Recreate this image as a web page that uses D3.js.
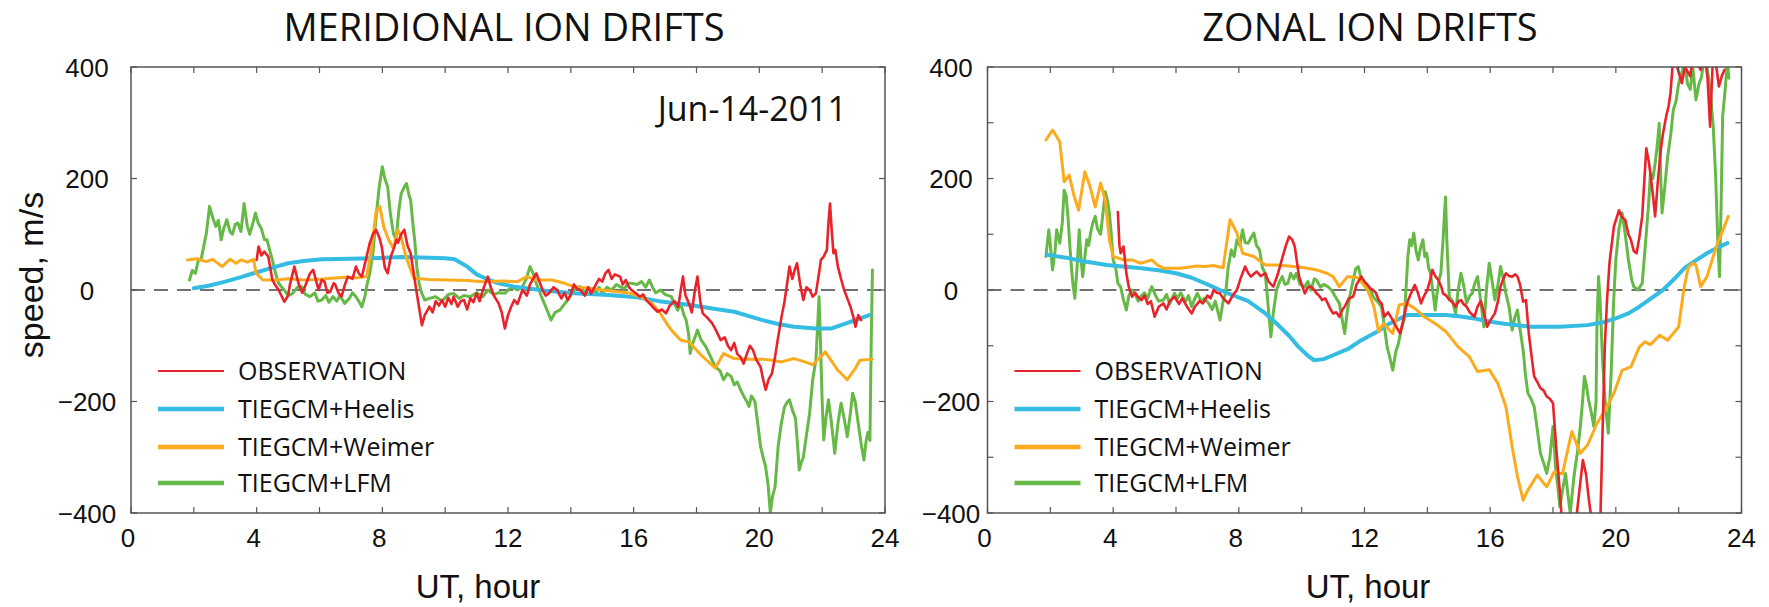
<!DOCTYPE html>
<html>
<head>
<meta charset="utf-8">
<script src="https://cdn.jsdelivr.net/npm/d3@7"></script>
<style>
  html, body { margin: 0; padding: 0; background: #fff; }
  svg { display: block; }
</style>
</head>
<body>
<svg id="chart" width="1769" height="607"></svg>
<script>
// ---- data: [UT hour, speed m/s] ----
const panelTitles = ["MERIDIONAL ION DRIFTS", "ZONAL ION DRIFTS"];
const seriesNames = ["OBSERVATION", "TIEGCM+Heelis", "TIEGCM+Weimer", "TIEGCM+LFM"];
const xTickLabels = [0, 4, 8, 12, 16, 20, 24];
const yTickLabels = [400, 200, 0, -200, -400];
const dateLabel = "Jun-14-2011";

const merHeelis = [[2.0,3],[2.5,8],[3.0,15],[3.5,23],[3.9,30],[4.5,40],[5.0,48],[5.5,52],[6.1,55],[7.0,56],[7.7,57],[8.6,59],[9.5,58],[10.0,57],[10.3,55],[10.7,42],[11.0,28],[11.4,18],[11.7,12],[12.2,6],[12.6,3],[13.3,-2],[14.1,-6],[15.2,-9],[16.1,-13],[16.8,-20],[17.8,-27],[18.5,-33],[19.2,-39],[20.1,-54],[20.6,-61],[21.1,-66],[21.8,-69],[22.3,-69],[22.9,-57],[23.5,-45]];

const merWeimer = [[1.8,54],[2.1,56],[2.4,51],[2.6,55],[2.9,42],[3.15,55],[3.35,48],[3.5,54],[3.7,50],[3.9,55],[3.98,30],[4.2,18],[4.6,18],[5.0,20],[5.5,18],[5.9,19],[6.4,21],[6.8,23],[7.2,22],[7.5,24],[7.65,70],[7.8,140],[7.92,150],[8.05,112],[8.2,90],[8.35,75],[8.5,108],[8.6,95],[8.75,60],[9.0,21],[9.5,19],[10.1,18],[10.7,17],[11.2,15],[11.8,16],[12.3,15],[12.6,24],[12.9,18],[13.4,18],[13.8,12],[14.1,6],[14.6,3],[15.0,0],[15.5,-3],[15.9,-6],[16.3,-14],[16.6,-25],[16.85,-42],[17.05,-60],[17.2,-72],[17.5,-90],[17.76,-93],[18.1,-114],[18.4,-130],[18.6,-140],[18.86,-114],[19.2,-123],[19.6,-124],[20.1,-124],[20.4,-126],[20.7,-129],[21.1,-123],[21.4,-128],[21.7,-134],[22.1,-111],[22.5,-144],[22.8,-161],[23.06,-140],[23.2,-126],[23.6,-124]];

const merObservation = [[4.0,54],[4.06,78],[4.15,62],[4.24,69],[4.37,60],[4.5,18],[4.6,8],[4.7,0],[4.88,-21],[5.0,-10],[5.06,10],[5.2,42],[5.33,12],[5.45,-5],[5.55,8],[5.7,30],[5.8,36],[5.97,0],[6.07,18],[6.16,15],[6.25,-5],[6.34,-3],[6.45,12],[6.5,10],[6.6,-5],[6.7,-12],[6.8,8],[6.9,24],[7.05,20],[7.16,42],[7.25,30],[7.35,24],[7.5,60],[7.6,84],[7.7,100],[7.8,108],[7.9,95],[7.98,78],[8.08,40],[8.17,30],[8.27,60],[8.35,72],[8.45,90],[8.5,85],[8.6,100],[8.7,108],[8.8,80],[8.9,66],[9.0,30],[9.08,0],[9.18,-35],[9.26,-63],[9.35,-45],[9.5,-30],[9.6,-40],[9.7,-20],[9.8,-28],[9.9,-18],[10.0,-30],[10.1,-14],[10.2,-25],[10.27,-12],[10.4,-30],[10.5,-20],[10.6,-18],[10.7,-35],[10.8,-15],[10.9,-22],[11.0,-6],[11.1,-20],[11.2,0],[11.36,24],[11.45,5],[11.55,-10],[11.7,-24],[11.8,-40],[11.9,-69],[12.0,-45],[12.1,-30],[12.2,-18],[12.3,-25],[12.46,0],[12.6,-10],[12.7,10],[12.8,20],[12.9,30],[13.0,15],[13.1,0],[13.2,-10],[13.3,-6],[13.45,5],[13.56,0],[13.7,-15],[13.8,-5],[13.9,-18],[14.0,-8],[14.1,10],[14.2,2],[14.3,0],[14.45,-10],[14.55,5],[14.65,-6],[14.8,10],[14.9,20],[15.0,15],[15.1,30],[15.2,36],[15.3,20],[15.4,28],[15.57,24],[15.65,10],[15.75,18],[15.85,5],[15.93,0],[16.05,-5],[16.2,-12],[16.3,-8],[16.4,-18],[16.5,-24],[16.6,-30],[16.76,-39],[16.9,-35],[17.03,-42],[17.15,-28],[17.3,-20],[17.42,-30],[17.5,0],[17.57,24],[17.65,-10],[17.76,-24],[17.85,-40],[17.95,0],[18.03,24],[18.12,-20],[18.2,-42],[18.35,-50],[18.5,-60],[18.6,-70],[18.77,-90],[18.9,-85],[19.0,-100],[19.1,-108],[19.2,-95],[19.3,-115],[19.4,-120],[19.5,-132],[19.6,-115],[19.7,-100],[19.8,-108],[19.9,-125],[20.04,-138],[20.12,-160],[20.2,-179],[20.3,-160],[20.4,-150],[20.5,-120],[20.6,-84],[20.7,-50],[20.8,-21],[20.88,10],[20.96,42],[21.05,20],[21.12,35],[21.2,48],[21.3,10],[21.4,-18],[21.5,5],[21.6,0],[21.7,-12],[21.8,-6],[21.9,30],[21.96,54],[22.05,60],[22.15,72],[22.2,120],[22.25,155],[22.3,110],[22.36,66],[22.42,72],[22.5,42],[22.6,20],[22.7,0],[22.8,-15],[22.9,-30],[23.0,-50],[23.06,-66],[23.15,-45],[23.24,-54]];

const merLFM = [[1.86,18],[1.95,35],[2.05,30],[2.15,55],[2.23,54],[2.32,80],[2.4,102],[2.5,150],[2.6,130],[2.7,114],[2.78,125],[2.87,90],[2.95,110],[3.05,126],[3.15,105],[3.23,100],[3.32,118],[3.4,120],[3.5,105],[3.6,155],[3.7,115],[3.78,100],[3.88,120],[3.96,138],[4.05,120],[4.15,110],[4.25,90],[4.33,90],[4.42,70],[4.5,54],[4.6,30],[4.7,12],[4.8,5],[4.88,0],[5.0,-10],[5.15,-6],[5.3,5],[5.43,6],[5.55,-8],[5.7,-12],[5.85,-5],[5.95,-20],[6.07,-18],[6.2,-10],[6.3,-22],[6.43,-12],[6.55,-20],[6.65,-10],[6.8,-24],[6.95,-15],[7.05,-5],[7.16,-12],[7.25,-20],[7.35,-30],[7.45,-10],[7.5,6],[7.6,30],[7.7,66],[7.8,130],[7.9,185],[8.0,221],[8.08,200],[8.17,185],[8.25,140],[8.35,102],[8.44,90],[8.52,140],[8.6,173],[8.7,185],[8.77,191],[8.85,170],[8.9,162],[8.97,120],[9.03,90],[9.1,40],[9.17,12],[9.25,-5],[9.35,-18],[9.5,-15],[9.7,-12],[9.9,-20],[10.1,-8],[10.27,-6],[10.45,-15],[10.6,-10],[10.8,-12],[11.0,-5],[11.2,-12],[11.36,0],[11.55,-8],[11.7,-5],[11.9,-6],[12.1,5],[12.3,0],[12.46,6],[12.58,20],[12.7,42],[12.8,30],[12.9,12],[13.05,-10],[13.2,-30],[13.37,-54],[13.5,-40],[13.65,-36],[13.8,-25],[13.9,-18],[14.05,-5],[14.2,5],[14.3,6],[14.45,-5],[14.55,3],[14.65,0],[14.8,-6],[14.9,5],[15.0,-6],[15.15,5],[15.3,0],[15.45,10],[15.57,6],[15.7,2],[15.82,12],[15.93,12],[16.1,10],[16.25,15],[16.38,5],[16.5,18],[16.6,5],[16.7,-5],[16.85,0],[17.0,-8],[17.2,-12],[17.3,-25],[17.4,-36],[17.5,-25],[17.6,-45],[17.67,-54],[17.75,-80],[17.8,-114],[17.85,-100],[17.95,-85],[18.03,-72],[18.15,-90],[18.3,-102],[18.45,-120],[18.6,-138],[18.75,-145],[18.86,-161],[18.98,-150],[19.1,-155],[19.2,-170],[19.3,-165],[19.4,-179],[19.5,-190],[19.6,-200],[19.67,-209],[19.75,-190],[19.86,-200],[19.95,-240],[20.04,-281],[20.12,-300],[20.2,-317],[20.28,-350],[20.35,-400],[20.42,-370],[20.5,-353],[20.6,-280],[20.7,-239],[20.8,-210],[20.9,-200],[20.96,-197],[21.05,-215],[21.15,-230],[21.22,-280],[21.27,-323],[21.33,-310],[21.4,-300],[21.5,-260],[21.6,-221],[21.7,-160],[21.8,-126],[21.86,-60],[21.9,-12],[21.95,-100],[22.0,-200],[22.05,-269],[22.12,-230],[22.2,-197],[22.3,-240],[22.4,-293],[22.5,-240],[22.6,-203],[22.7,-230],[22.8,-263],[22.9,-220],[22.97,-185],[23.05,-200],[23.15,-240],[23.25,-280],[23.33,-305],[23.4,-270],[23.46,-255],[23.52,-270],[23.56,-100],[23.6,36]];

const zonHeelis = [[1.9,63],[2.5,58],[3.0,52],[3.8,45],[4.9,39],[5.5,35],[6.0,30],[6.5,22],[7.0,10],[7.4,0],[7.8,-9],[8.3,-20],[8.8,-40],[9.2,-60],[9.6,-82],[9.9,-102],[10.2,-118],[10.4,-126],[10.7,-124],[11.0,-117],[11.5,-105],[11.9,-90],[12.4,-75],[12.8,-60],[13.35,-45],[14.0,-45],[14.6,-45],[15.0,-47],[15.5,-51],[16.0,-57],[16.4,-60],[17.3,-66],[18.2,-66],[19.1,-63],[19.6,-58],[20.0,-51],[20.4,-42],[20.75,-30],[21.1,-16],[21.5,0],[21.9,22],[22.2,40],[22.6,55],[22.9,66],[23.2,75],[23.55,84]];

const zonWeimer = [[1.86,269],[2.07,287],[2.3,266],[2.44,194],[2.6,206],[2.75,170],[2.9,143],[3.1,212],[3.25,188],[3.43,149],[3.6,192],[3.75,161],[3.88,90],[4.0,60],[4.33,54],[4.6,54],[4.87,48],[5.0,50],[5.23,54],[5.4,45],[5.6,39],[6.13,39],[6.68,43],[6.9,42],[7.2,44],[7.5,40],[7.72,126],[7.94,102],[8.12,66],[8.48,60],[8.84,45],[9.2,45],[9.74,42],[10.1,40],[10.47,36],[10.8,30],[11.0,24],[11.2,6],[11.46,24],[11.8,22],[12.1,0],[12.3,-30],[12.45,-75],[12.6,-60],[12.9,-78],[13.1,-27],[13.35,-24],[13.6,-33],[13.9,-48],[14.25,-60],[14.6,-75],[14.98,-102],[15.34,-120],[15.6,-146],[15.97,-143],[16.24,-167],[16.5,-209],[16.7,-281],[16.87,-335],[17.05,-377],[17.2,-359],[17.5,-332],[17.8,-353],[18.04,-326],[18.3,-330],[18.6,-254],[18.87,-293],[19.1,-278],[19.4,-239],[19.67,-215],[19.94,-185],[20.2,-144],[20.48,-138],[20.75,-102],[20.93,-93],[21.1,-98],[21.4,-81],[21.65,-90],[22.0,-66],[22.16,0],[22.3,40],[22.45,48],[22.55,45],[22.7,6],[22.9,24],[23.2,78],[23.37,102],[23.58,132]];

const zonObservation = [[4.15,140],[4.2,80],[4.24,66],[4.33,78],[4.42,30],[4.5,5],[4.6,-12],[4.7,-5],[4.78,-12],[4.9,-18],[5.0,-10],[5.1,-25],[5.2,-20],[5.32,-48],[5.45,-30],[5.6,-24],[5.7,-35],[5.8,-20],[5.95,-12],[6.1,-25],[6.2,-15],[6.35,-30],[6.5,-42],[6.6,-30],[6.75,-20],[6.86,-24],[7.0,-10],[7.1,-15],[7.2,0],[7.3,-5],[7.4,-6],[7.5,-15],[7.67,-24],[7.8,-10],[7.94,0],[8.05,20],[8.2,42],[8.3,30],[8.39,24],[8.5,30],[8.57,33],[8.7,25],[8.84,30],[8.95,15],[9.1,6],[9.25,30],[9.38,57],[9.5,80],[9.6,96],[9.7,90],[9.78,78],[9.85,50],[9.92,24],[10.0,10],[10.1,-6],[10.2,5],[10.3,6],[10.4,0],[10.47,-6],[10.55,-10],[10.65,-18],[10.75,-15],[10.83,-24],[10.92,-35],[11.0,-42],[11.1,-40],[11.2,-48],[11.3,-35],[11.37,-30],[11.5,-15],[11.64,-12],[11.75,10],[11.9,24],[12.0,15],[12.1,9],[12.2,2],[12.27,0],[12.36,-5],[12.45,-18],[12.55,-25],[12.63,-48],[12.75,-40],[12.9,-54],[13.0,-65],[13.14,-78],[13.25,-50],[13.35,-24],[13.45,-10],[13.6,9],[13.7,-5],[13.8,-24],[13.9,-10],[14.0,0],[14.1,20],[14.16,36],[14.25,25],[14.35,18],[14.45,5],[14.5,-6],[14.6,-10],[14.7,-18],[14.8,-22],[14.9,-30],[15.0,-20],[15.07,-18],[15.15,-25],[15.25,-30],[15.35,-40],[15.5,-48],[15.6,-30],[15.7,-20],[15.8,-40],[15.9,-66],[16.0,-55],[16.15,-42],[16.25,-20],[16.33,6],[16.42,20],[16.5,30],[16.6,25],[16.7,24],[16.8,28],[16.87,24],[16.95,10],[17.05,-21],[17.14,-18],[17.23,-78],[17.32,-120],[17.4,-155],[17.5,-165],[17.6,-176],[17.7,-180],[17.8,-191],[17.9,-195],[18.0,-203],[18.1,-281],[18.2,-350],[18.28,-410],[18.4,-440],[18.55,-460],[18.7,-430],[18.8,-380],[18.95,-305],[19.05,-330],[19.15,-380],[19.25,-420],[19.4,-460],[19.5,-430],[19.58,-250],[19.65,-100],[19.72,-18],[19.8,50],[19.94,114],[20.1,143],[20.2,130],[20.3,126],[20.4,100],[20.48,90],[20.57,70],[20.66,66],[20.75,95],[20.84,132],[20.9,190],[20.97,254],[21.05,230],[21.1,209],[21.18,170],[21.25,132],[21.33,190],[21.43,251],[21.5,280],[21.6,311],[21.68,330],[21.74,353],[21.83,420],[21.95,400],[22.1,371],[22.2,400],[22.3,390],[22.37,383],[22.45,420],[22.55,410],[22.7,395],[22.83,420],[22.92,380],[23.0,293],[23.1,430],[23.2,400],[23.28,365],[23.38,385],[23.46,395]];

const zonLFM = [[1.86,60],[1.95,108],[2.0,80],[2.07,36],[2.15,70],[2.2,108],[2.3,84],[2.38,120],[2.44,179],[2.5,170],[2.56,132],[2.62,80],[2.67,42],[2.72,10],[2.78,-15],[2.85,40],[2.92,108],[2.97,60],[3.03,24],[3.1,60],[3.16,90],[3.22,80],[3.28,102],[3.35,120],[3.43,132],[3.5,110],[3.6,100],[3.68,140],[3.75,176],[3.82,160],[3.88,138],[3.94,100],[4.0,54],[4.08,40],[4.15,12],[4.24,5],[4.33,-18],[4.42,-36],[4.5,-10],[4.6,0],[4.7,-8],[4.8,-20],[4.87,-12],[5.0,-5],[5.1,-15],[5.23,6],[5.35,-10],[5.45,-20],[5.6,-18],[5.7,-8],[5.8,-25],[5.95,-6],[6.05,-15],[6.15,-5],[6.3,-21],[6.4,-10],[6.5,-30],[6.6,-15],[6.68,-6],[6.8,-20],[6.9,-15],[7.04,-24],[7.15,-35],[7.25,-20],[7.4,-54],[7.5,-20],[7.58,-6],[7.66,40],[7.76,72],[7.85,60],[7.94,90],[8.03,80],[8.12,108],[8.2,85],[8.3,84],[8.4,95],[8.48,102],[8.56,80],[8.66,72],[8.75,40],[8.84,30],[8.92,-20],[9.02,-84],[9.1,-40],[9.2,0],[9.3,15],[9.38,24],[9.47,10],[9.56,12],[9.65,30],[9.75,20],[9.83,30],[9.95,10],[10.1,6],[10.2,15],[10.3,0],[10.4,20],[10.47,18],[10.6,5],[10.7,10],[10.83,6],[10.95,0],[11.05,-10],[11.2,-24],[11.28,-50],[11.37,-78],[11.45,-40],[11.55,-6],[11.65,20],[11.72,38],[11.8,42],[11.9,20],[12.0,10],[12.1,6],[12.2,0],[12.27,-12],[12.4,-20],[12.54,-30],[12.62,-60],[12.72,-102],[12.8,-120],[12.9,-144],[13.0,-110],[13.08,-96],[13.17,-70],[13.26,-54],[13.32,0],[13.38,60],[13.44,90],[13.5,80],[13.57,102],[13.64,70],[13.71,54],[13.78,75],[13.86,90],[13.92,60],[13.98,66],[14.04,40],[14.1,30],[14.17,0],[14.25,-36],[14.3,-10],[14.38,20],[14.43,30],[14.5,90],[14.55,140],[14.58,167],[14.62,90],[14.7,-12],[14.8,-20],[14.9,-42],[14.98,0],[15.07,30],[15.15,10],[15.25,-24],[15.35,-10],[15.43,-6],[15.5,10],[15.6,24],[15.7,-20],[15.8,-66],[15.88,0],[15.97,48],[16.05,20],[16.15,-18],[16.25,10],[16.33,42],[16.42,20],[16.5,-6],[16.6,-30],[16.7,-72],[16.78,-50],[16.87,-36],[16.95,-70],[17.05,-108],[17.12,-150],[17.2,-185],[17.3,-195],[17.4,-209],[17.5,-250],[17.6,-293],[17.7,-310],[17.8,-329],[17.9,-300],[18.0,-245],[18.04,-280],[18.08,-317],[18.15,-350],[18.22,-389],[18.3,-360],[18.4,-329],[18.48,-370],[18.55,-400],[18.62,-360],[18.68,-329],[18.78,-290],[18.87,-245],[18.94,-200],[19.0,-155],[19.06,-170],[19.13,-197],[19.22,-220],[19.3,-245],[19.37,-200],[19.4,-60],[19.45,24],[19.5,-20],[19.58,-130],[19.66,-200],[19.76,-257],[19.85,-150],[19.93,-20],[20.0,54],[20.1,110],[20.2,138],[20.3,100],[20.4,54],[20.5,20],[20.57,6],[20.7,0],[20.84,12],[20.97,102],[21.05,160],[21.1,209],[21.18,200],[21.25,227],[21.32,260],[21.38,299],[21.43,200],[21.47,138],[21.55,180],[21.65,239],[21.75,280],[21.83,323],[21.92,340],[22.0,371],[22.1,390],[22.2,410],[22.28,370],[22.37,360],[22.45,400],[22.55,341],[22.65,370],[22.73,383],[22.82,420],[22.9,400],[23.0,360],[23.1,293],[23.18,200],[23.25,80],[23.3,24],[23.35,150],[23.4,311],[23.48,360],[23.55,410],[23.6,380]];

// ---- styling ----
const colors = { obs: "#e8232a", heelis: "#34bce2", weimer: "#fbab1d", lfm: "#66b947" };
const widths = { obs: 2.6, heelis: 4, weimer: 3, lfm: 3 };
const axisColor = "#555";
const tickFont = "'Liberation Sans', Arial, Helvetica, sans-serif";
const textFont = "'Open Sans', 'Noto Sans', sans-serif";

const svg = d3.select("#chart");

const panels = [
  { left: 131, title: panelTitles[0], titleX: 504, xLabelX: 478, yLabelCx: 87, yStep: 200, date: true,
    series: { lfm: merLFM, heelis: merHeelis, weimer: merWeimer, obs: merObservation } },
  { left: 987.5, title: panelTitles[1], titleX: 1370, xLabelX: 1368, yLabelCx: 951, yStep: 100, date: false,
    series: { lfm: zonLFM, heelis: zonHeelis, weimer: zonWeimer, obs: zonObservation } }
];

const plotW = 754, plotTop = 67, plotBottom = 513;

panels.forEach((p, i) => {
  const x = d3.scaleLinear().domain([0, 24]).range([p.left, p.left + plotW]);
  const y = d3.scaleLinear().domain([-400, 400]).range([plotBottom, plotTop]);
  const g = svg.append("g");

  const clipId = "clip" + i;
  svg.append("defs").append("clipPath").attr("id", clipId)
    .append("rect").attr("x", p.left).attr("y", plotTop).attr("width", plotW).attr("height", plotBottom - plotTop);

  // panel title
  g.append("text").attr("x", p.titleX).attr("y", 41).attr("text-anchor", "middle")
    .style("font-family", textFont).style("font-size", "38px").attr("fill", "#111").text(p.title);

  // zero reference line
  g.append("line").attr("x1", x(0)).attr("x2", x(24)).attr("y1", y(0)).attr("y2", y(0))
    .attr("stroke", "#444").attr("stroke-width", 1.3).attr("stroke-dasharray", "14,9");

  // data lines
  const line = d3.line().x(d => x(d[0])).y(d => y(d[1]));
  const lines = g.append("g").attr("clip-path", `url(#${clipId})`);
  ["lfm", "heelis", "weimer", "obs"].forEach(k => {
    lines.append("path").datum(p.series[k]).attr("d", line)
      .attr("fill", "none").attr("stroke", colors[k]).attr("stroke-width", widths[k])
      .attr("stroke-linejoin", "round").attr("stroke-linecap", "round");
  });

  // frame
  g.append("rect").attr("x", p.left).attr("y", plotTop).attr("width", plotW).attr("height", plotBottom - plotTop)
    .attr("fill", "none").attr("stroke", axisColor).attr("stroke-width", 1.5);

  // inward tick marks on all four sides
  const tl = 6;
  d3.range(0, 25, 2).forEach(h => {
    g.append("line").attr("x1", x(h)).attr("x2", x(h)).attr("y1", plotTop).attr("y2", plotTop + tl)
      .attr("stroke", axisColor).attr("stroke-width", 1.2);
    g.append("line").attr("x1", x(h)).attr("x2", x(h)).attr("y1", plotBottom).attr("y2", plotBottom - tl)
      .attr("stroke", axisColor).attr("stroke-width", 1.2);
  });
  d3.range(-400, 401, p.yStep).forEach(v => {
    g.append("line").attr("x1", p.left).attr("x2", p.left + tl).attr("y1", y(v)).attr("y2", y(v))
      .attr("stroke", axisColor).attr("stroke-width", 1.2);
    g.append("line").attr("x1", p.left + plotW).attr("x2", p.left + plotW - tl).attr("y1", y(v)).attr("y2", y(v))
      .attr("stroke", axisColor).attr("stroke-width", 1.2);
  });

  // tick labels
  xTickLabels.forEach(h => {
    g.append("text").attr("x", x(h) - (h < 10 ? 3 : 0)).attr("y", 547).attr("text-anchor", "middle")
      .style("font-family", tickFont).style("font-size", "26px").attr("fill", "#111")
      .text(h);
  });
  yTickLabels.forEach(v => {
    g.append("text").attr("x", p.yLabelCx).attr("y", y(v) + 9.5).attr("text-anchor", "middle")
      .style("font-family", tickFont).style("font-size", "26px").attr("fill", "#111")
      .text(v < 0 ? "\u2212" + Math.abs(v) : v);
  });

  // x-axis title
  g.append("text").attr("x", p.xLabelX).attr("y", 598).attr("text-anchor", "middle")
    .style("font-family", tickFont).style("font-size", "33px").attr("fill", "#111").text("UT, hour");

  // legend
  const legendKeys = ["obs", "heelis", "weimer", "lfm"];
  const lx = p.left + 27;
  [371, 409, 447, 483].forEach((ly, j) => {
    const k = legendKeys[j];
    g.append("line").attr("x1", lx).attr("x2", lx + 66).attr("y1", ly).attr("y2", ly)
      .attr("stroke", colors[k]).attr("stroke-width", k === "obs" ? 2.2 : 4.5);
    g.append("text").attr("x", lx + 80).attr("y", ly + 9).style("font-family", textFont)
      .style("font-size", "25px").attr("fill", "#111").text(seriesNames[j]);
  });

  if (p.date) {
    g.append("text").attr("x", 847).attr("y", 121).attr("text-anchor", "end")
      .style("font-family", textFont).style("font-size", "34px").attr("fill", "#111").text(dateLabel);
  }
});

// y-axis title
svg.append("text").attr("transform", "translate(43,275) rotate(-90)").attr("text-anchor", "middle")
  .style("font-family", tickFont).style("font-size", "34px").attr("fill", "#111").text("speed, m/s");
</script>
</body>
</html>
